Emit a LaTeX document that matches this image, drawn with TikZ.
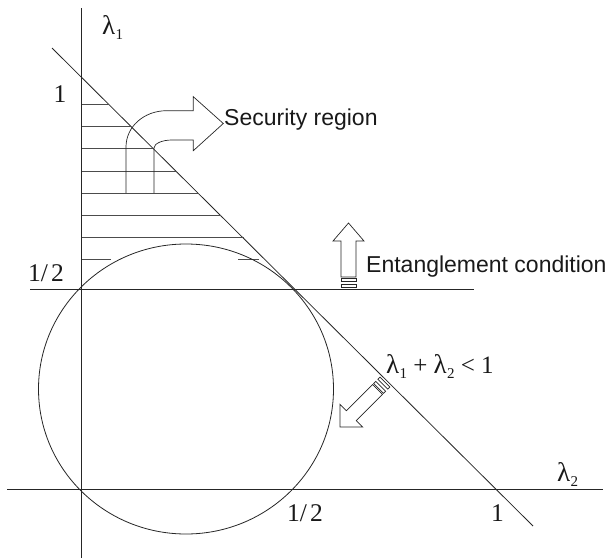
\documentclass[tikz,border=0pt]{standalone}
\usepackage{fontspec}
\setmainfont{Liberation Serif}
\newfontfamily\labsans{Liberation Sans}
\newcommand\lsub[1]{{\fontsize{27}{27}\selectfont λ}\kern0.3pt\raisebox{-5pt}{\fontsize{15}{15}\selectfont #1}}
\begin{document}
\begin{tikzpicture}[x=1pt,y=-1pt,
  ln/.style={line width=0.8pt, draw=black!85},
  hatch/.style={line width=0.8pt, draw=black!70},
  fat/.style={line width=0.7pt, draw=black!85, fill=none},
  serif/.style={inner sep=0, anchor=base, font=\fontsize{25.5}{25.5}\selectfont, text=black!90},
  sanslab/.style={inner sep=0, anchor=base west, font=\labsans\fontsize{23}{23}\selectfont, text=black!90}]
\useasboundingbox (0,0) rectangle (611,560);

% axes and lines
\coordinate (yb) at (81.5,558); \coordinate (yt) at (81.5,8);
\draw[ln] (yb) -- (yt);
\coordinate (xl) at (7,489); \coordinate (xr) at (603,489);
\draw[ln] (xl) -- (xr);
\coordinate (hl) at (30,289); \coordinate (hr) at (474,289);
\draw[ln] (hl) -- (hr);
\coordinate (da) at (52,48); \coordinate (db) at (533,526);
\draw[ln] (da) -- (db);

% hatching
\foreach \y in {104,126,148,171,193,215,237}
  \draw[hatch] (81.5,\y) -- ({82+1.0097*(\y-77)},\y);
\draw[hatch] (81.5,259) -- (111,259);
\draw[hatch] (238,259) -- (259,259);

% circle
\draw[ln] (186,389) ellipse [x radius=147.5pt, y radius=145pt];

% security region arrow
\draw[fat] (126,193) -- (126,147) .. controls (126,126.6) and (144,110.7) .. (166.7,110.7)
  -- (193.3,110.7) -- (193.3,96.7) -- (223.3,123.5) -- (193.3,150.7) -- (193.3,140)
  -- (172,140) .. controls (162,140) and (154,143.6) .. (154,148) -- (154,193);

% entanglement arrow
\begin{scope}[shift={(348.5,289)}, rotate=90]
  \draw[fat] (12,-7.5) -- (48,-7.5) -- (48,-15.5) -- (66,0) -- (48,15.5) -- (48,7.5) -- (12,7.5) -- cycle;
  \draw[fat] (1.7,-7.5) rectangle (5,7.5);
  \draw[fat] (8,-7.5) rectangle (10.7,7.5);
\end{scope}

% inequality arrow
\begin{scope}[shift={(386,381)}, rotate=225]
  \draw[fat] (12,-7) -- (49,-7) -- (49,-16) -- (65,0) -- (49,16) -- (49,7) -- (12,7) -- cycle;
  \draw[fat] (1.5,-7) rectangle (4.5,7);
  \draw[fat] (7.5,-7) rectangle (10.5,7);
\end{scope}

% labels
\node[inner sep=0, anchor=base west, font=\fontsize{23}{23}\selectfont, text=black!90] (l1) at (102,34) {\lsub{1}};
\node[serif] (oney) at (60,102) {1};
\node[serif] (halfy) at (46,281) {1/\kern3pt2};
\node[serif] (halfx) at (305,521) {1/\kern3pt2};
\node[serif] (onex) at (497.5,521) {1};
\node[inner sep=0, anchor=base west, font=\fontsize{23}{23}\selectfont, text=black!90] (l2) at (557,481) {\lsub{2}};
\node[inner sep=0, anchor=base west, font=\fontsize{25}{25}\selectfont, text=black!90] (ineq) at (386,373) {\lsub{1} + \lsub{2} < 1};
\node[sanslab] (sec) at (224,125) {Security region};
\node[sanslab] (ent) at (366,272) {Entanglement condition};
\end{tikzpicture}
\end{document}
